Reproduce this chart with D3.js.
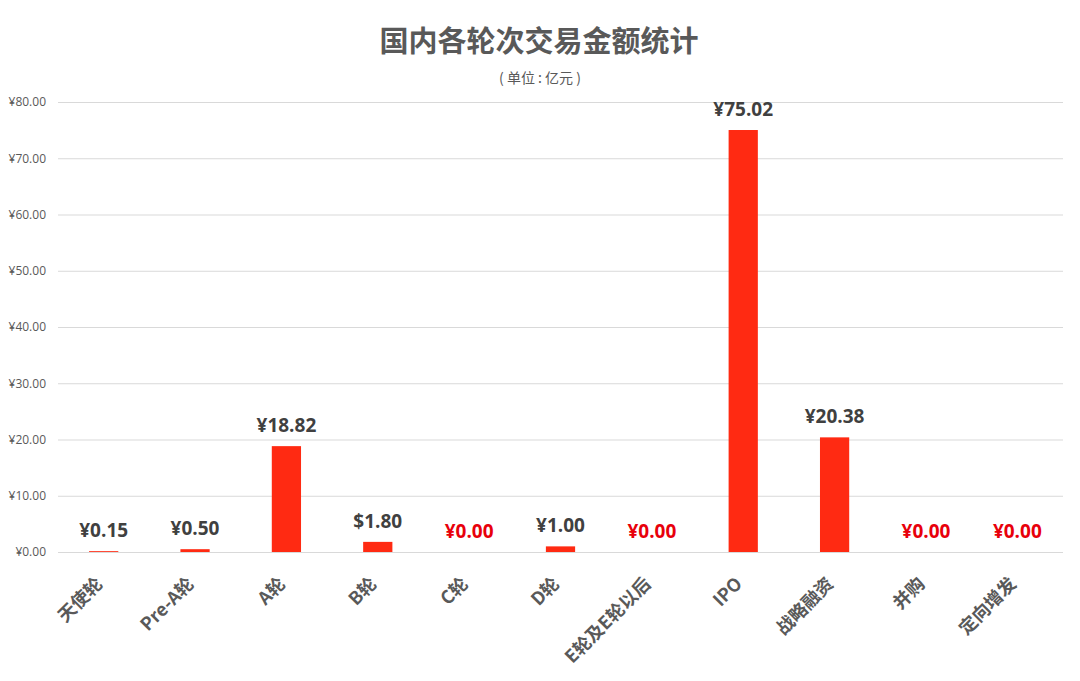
<!DOCTYPE html>
<html lang="zh">
    <head>
        <meta charset="utf-8">
        <title>国内各轮次交易金额统计</title>
        <script type="text/javascript" src="https://d3js.org/d3.v7.min.js"></script>
        <style type="text/css">
            body { margin: 0; background: #fff; }
            text { font-family: "Noto Sans CJK SC", "Noto Sans", sans-serif; }
        </style>
    </head>
    <body>
        <div id="chart"></div>
        <script type="text/javascript">

            // data
            var categories = ["天使轮", "Pre-A轮", "A轮", "B轮", "C轮", "D轮", "E轮及E轮以后", "IPO", "战略融资", "并购", "定向增发"];
            var values = [0.15, 0.50, 18.82, 1.80, 0.00, 1.00, 0.00, 75.02, 20.38, 0.00, 0.00];
            var valueLabels = ["¥0.15", "¥0.50", "¥18.82", "$1.80", "¥0.00", "¥1.00", "¥0.00", "¥75.02", "¥20.38", "¥0.00", "¥0.00"];
            var yTicks = [0, 10, 20, 30, 40, 50, 60, 70, 80];

            var W = 1080, H = 681;
            var margin = {top: 102, right: 17, bottom: 129, left: 58},
                width = W - margin.left - margin.right,
                height = H - margin.top - margin.bottom;

            var svg = d3.select("#chart")
                .append("svg")
                    .attr("width", W)
                    .attr("height", H);

            // title
            svg.append("text")
                .attr("x", 539).attr("y", 52)
                .attr("text-anchor", "middle")
                .attr("font-size", 29)
                .attr("font-weight", "bold")
                .attr("fill", "#595959")
                .text("国内各轮次交易金额统计");
            svg.append("text")
                .attr("x", 540).attr("y", 83)
                .attr("text-anchor", "middle")
                .attr("font-size", 14)
                .attr("fill", "#595959")
                .style("white-space", "pre")
                .text("( 单位 : 亿元 )");

            var g = svg.append("g")
                .attr("transform", "translate(" + margin.left + "," + margin.top + ")");

            var x = d3.scaleBand()
                .domain(categories)
                .range([0, width])
                .paddingInner(0.68)
                .paddingOuter(0.34);

            var y = d3.scaleLinear()
                .domain([0, 80])
                .range([height, 0]);

            // gridlines + y labels
            var yAxis = g.append("g")
                .call(d3.axisLeft(y)
                    .tickValues(yTicks)
                    .tickSize(-width)
                    .tickPadding(12)
                    .tickFormat(function(d) { return "¥" + d3.format(".2f")(d); }));
            yAxis.select(".domain").remove();
            yAxis.selectAll(".tick line").attr("stroke", "#d9d9d9").attr("stroke-width", 1);
            yAxis.selectAll(".tick text")
                .attr("fill", "#595959")
                .attr("font-size", 12)
                .style("font-family", "'Open Sans', 'Noto Sans', sans-serif");

            // bars
            g.selectAll(".bar")
                .data(values)
                .enter().append("rect")
                    .attr("class", "bar")
                    .attr("x", function(d, i) { return x(categories[i]); })
                    .attr("width", x.bandwidth())
                    .attr("y", function(d) { return y(d); })
                    .attr("height", function(d) { return height - y(d); })
                    .attr("fill", "#ff2a12");

            // value labels
            g.selectAll(".val")
                .data(values)
                .enter().append("text")
                    .attr("class", "val")
                    .attr("x", function(d, i) { return x(categories[i]) + x.bandwidth() / 2; })
                    .attr("y", function(d) { return y(d) - 14; })
                    .attr("text-anchor", "middle")
                    .attr("font-size", 19)
                    .attr("font-weight", "bold")
                    .attr("fill", function(d) { return d === 0 ? "#e8000b" : "#404040"; })
                    .style("font-family", "'Open Sans', 'Noto Sans', sans-serif")
                    .text(function(d, i) { return valueLabels[i]; });

            // category labels, rotated
            var xAxis = g.append("g")
                .attr("transform", "translate(0," + height + ")")
                .call(d3.axisBottom(x).tickSize(0).tickPadding(0));
            xAxis.select(".domain").remove();
            xAxis.selectAll(".tick text")
                .attr("fill", "#595959")
                .attr("font-size", 18)
                .attr("font-weight", "bold")
                .attr("text-anchor", "end")
                .attr("dy", 0)
                .attr("transform", "translate(0,33) rotate(-45)");
        </script>
    </body>
</html>
